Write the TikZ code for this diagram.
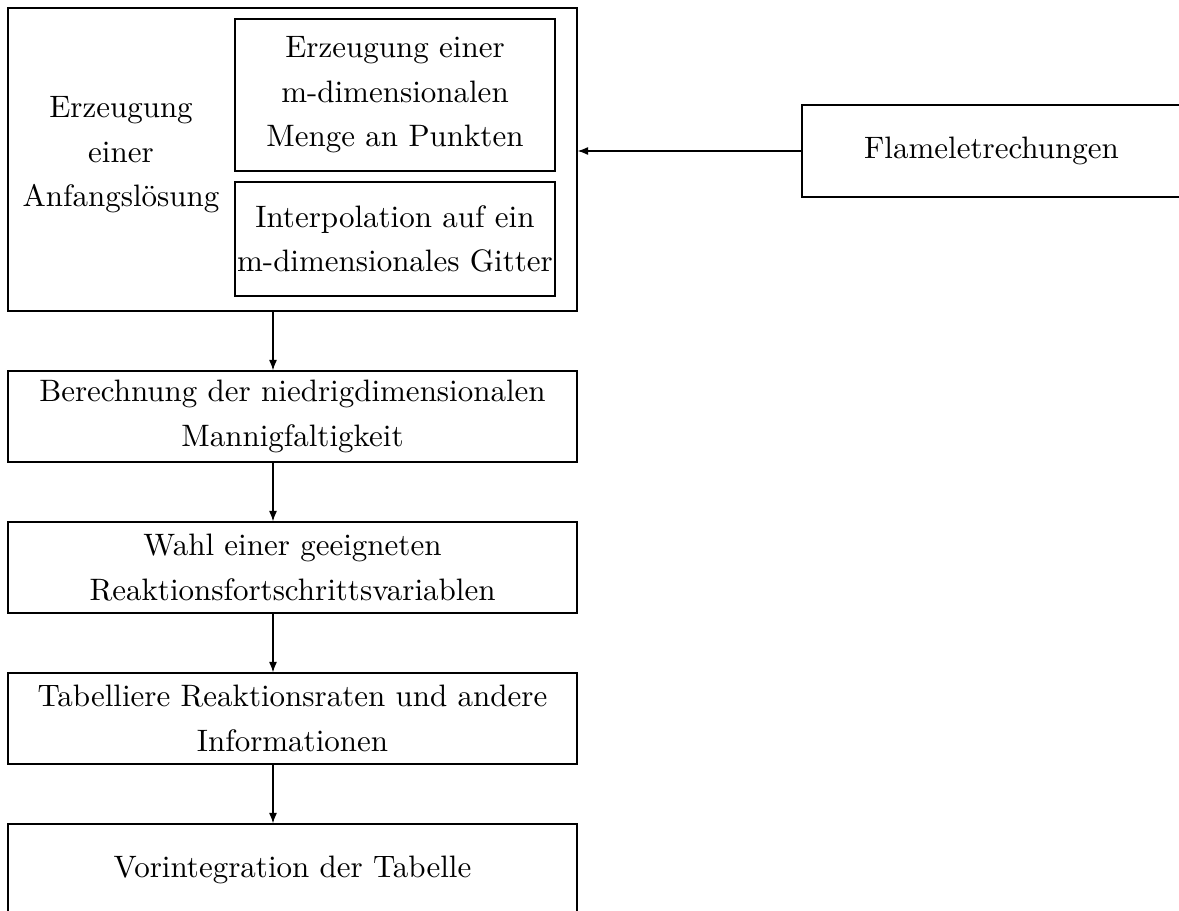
\documentclass[tikz,border=0pt]{standalone}
\usetikzlibrary{arrows.meta}
\begin{document}
\begin{tikzpicture}[x=0.3226pt, y=-0.3226pt,
  box/.style={draw, line width=0.4pt, inner sep=0pt, align=center, font=\fontsize{10}{14.4}\selectfont},
  txt/.style={inner sep=0pt, align=center, font=\fontsize{10}{14.4}\selectfont},
  arr/.style={-{Latex[length=3.4pt,width=2.6pt]}, line width=0.4pt}]
\useasboundingbox (0,0) rectangle (1179,911);
% outer box and its content
\node[box, minimum width=569*0.3226pt, minimum height=303*0.3226pt] (outer) at (292.5,159.5) {};
\node[txt] (anf) at (121,155) {Erzeugung\\einer\\Anfangslösung};
\node[box, minimum width=320*0.3226pt, minimum height=152*0.3226pt] (gen) at (395,95) {Erzeugung einer\\m-dimensionalen\\Menge an Punkten};
\node[box, minimum width=320*0.3226pt, minimum height=114*0.3226pt] (interp) at (395,239) {Interpolation auf ein\\m-dimensionales Gitter};
% right box
\node[box, minimum width=379*0.3226pt, minimum height=92*0.3226pt] (flame) at (991.5,151) {Flameletrechungen};
% main column
\node[box, minimum width=569*0.3226pt, minimum height=91*0.3226pt] (berech) at (292.5,416.5) {Berechnung der niedrigdimensionalen\\Mannigfaltigkeit};
\node[box, minimum width=569*0.3226pt, minimum height=91*0.3226pt] (wahl) at (292.5,567.5) {Wahl einer geeigneten\\Reaktionsfortschrittsvariablen};
\node[box, minimum width=569*0.3226pt, minimum height=91*0.3226pt] (tab) at (292.5,718.5) {Tabelliere Reaktionsraten und andere\\Informationen};
\node[box, minimum width=569*0.3226pt, minimum height=91*0.3226pt] (vor) at (292.5,869.5) {Vorintegration der Tabelle};
% connectors
\coordinate (col) at (273,0);
\draw[arr] (flame.west) -- (outer.east |- flame.west);
\draw[arr] (outer.south -| col) -- (berech.north -| col);
\draw[arr] (berech.south -| col) -- (wahl.north -| col);
\draw[arr] (wahl.south -| col) -- (tab.north -| col);
\draw[arr] (tab.south -| col) -- (vor.north -| col);
\end{tikzpicture}
\end{document}
